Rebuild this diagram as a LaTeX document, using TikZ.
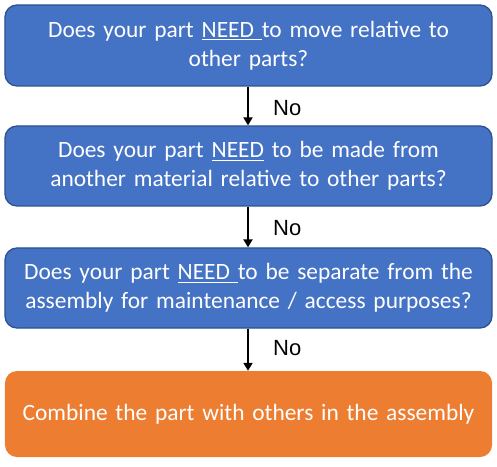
\documentclass[tikz,border=0pt]{standalone}
\usepackage{fontspec}
\setmainfont{Carlito}
\newfontfamily\arialfont{Liberation Sans}
\usetikzlibrary{arrows.meta}
\definecolor{boxblue}{HTML}{4472C4}
\definecolor{boxborder}{HTML}{2F528F}
\definecolor{boxorange}{HTML}{ED7D31}
\newcommand{\myul}[1]{\setbox0\hbox{#1}\rlap{\rule[-3.2bp]{\wd0}{1.4bp}}\box0\relax}
\tikzset{
  qbox/.style={draw=boxborder, line width=1.3bp, fill=boxblue, rounded corners=12bp,
    minimum width=487bp, text width=480bp, align=center, text=white,
    font=\fontsize{23.4bp}{29bp}\selectfont, inner sep=0pt},
  abox/.style={fill=boxorange, rounded corners=12bp,
    minimum width=487bp, minimum height=86bp, text width=480bp, align=center, text=white,
    font=\fontsize{23.4bp}{29bp}\selectfont, inner sep=0pt},
  flow/.style={line width=2bp, -{Triangle[length=8bp,width=9bp]}},
  nolab/.style={font=\arialfont\fontsize{22bp}{24bp}\selectfont, anchor=west, inner sep=0pt}
}
\begin{document}
\begin{tikzpicture}[x=1bp,y=-1bp]
\useasboundingbox (0,0) rectangle (497,467);
\node[qbox, minimum height=81bp] (q1) at (248.5,45.5) {Does your part \myul{NEED }to move relative to\\other parts?};
\node[qbox, minimum height=80bp] (q2) at (248.5,166) {Does your part \myul{NEED} to be made from\\another material relative to other parts?};
\node[qbox, minimum height=80bp] (q3) at (248.5,288) {Does your part \myul{NEED }to be separate from the\\assembly for maintenance / access purposes?};
\node[abox] (a) at (248.5,414) {Combine the part with others in the assembly};
\draw[flow] (q1.south -| 248,0) -- (q2.north -| 248,0);
\draw[flow] (q2.south -| 248,0) -- (q3.north -| 248,0);
\draw[flow] (q3.south -| 248,0) -- (a.north -| 248,0);
\node[nolab] (n1) at (273,108) {No};
\node[nolab] (n2) at (273,228) {No};
\node[nolab] (n3) at (273,348) {No};
\end{tikzpicture}
\end{document}
